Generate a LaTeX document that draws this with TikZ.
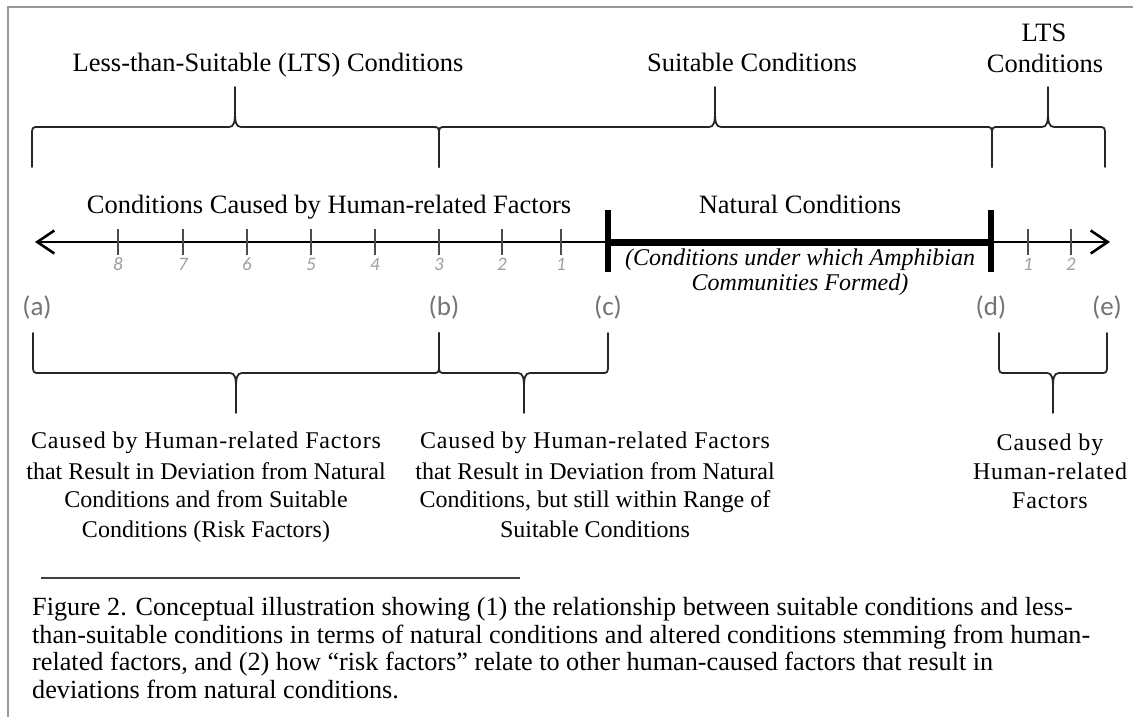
\documentclass[tikz,border=0pt]{standalone}
\usepackage{fontspec}
\setmainfont{Liberation Serif}
\newfontfamily\ptfont{Carlito}
\usetikzlibrary{arrows.meta}

% curly brace: x-left, x-tip, x-right, y of ends, y of bar, direction (1 = tip up, -1 = tip down), y of tip
\newcommand\cbrace[7]{%
  \draw[brace] (#1,#4) -- (#1,{#5+(#6)*9}) .. controls (#1,#5) .. ({#1+7},#5)
    -- ({#2-6},#5) .. controls ({#2-1},#5) and (#2,{#5-(#6)*5}) .. (#2,{#5-(#6)*15})
    -- (#2,#7)
    (#2,{#5-(#6)*15}) .. controls (#2,{#5-(#6)*5}) and ({#2+1},#5) .. ({#2+6},#5)
    -- ({#3-7},#5) .. controls (#3,#5) .. (#3,{#5+(#6)*9}) -- (#3,#4);}

\begin{document}
\begin{tikzpicture}[x=1pt,y=-1pt,
  lbl/.style={font=\fontsize{26.5}{28}\selectfont, inner sep=0pt, anchor=base},
  expl/.style={font=\fontsize{24}{28}\selectfont, inner sep=0pt, anchor=base},
  explwide/.style={font=\fontsize{24}{28}\selectfont\addfontfeature{LetterSpace=3.5}, inner sep=0pt, anchor=base},
  itl/.style={font=\fontsize{24}{25}\selectfont\itshape, inner sep=0pt, anchor=base},
  captxt/.style={font=\fontsize{26.2}{27}\selectfont, inner sep=0pt, anchor=base west},
  ptlbl/.style={font=\ptfont\fontsize{27}{27}\selectfont, text=black!55, inner sep=0pt},
  ticklbl/.style={font=\ptfont\itshape\fontsize{19}{19}\selectfont, text=black!38, inner sep=0pt},
  brace/.style={draw=black!85, line width=1.8pt, line join=round, line cap=round},
  axis/.style={draw=black, line width=2.4pt,
    {Straight Barb[length=17pt,width=23pt,line width=2.6pt]}-{Straight Barb[length=17pt,width=23pt,line width=2.6pt]}},
  natural/.style={draw=black, line width=7pt},
  smalltick/.style={draw=black!70, line width=1.3pt},
  bigtick/.style={draw=black, line width=6pt},
  frameline/.style={draw=black!40, line width=2.5pt},
]
\useasboundingbox (0,0) rectangle (1133,717);

% page frame
\draw[frameline] (8,717) -- (8,7) -- (1133,7);

% headings above the scale
\node[lbl] (ltsA) at (268,72) {Less-than-Suitable (LTS) Conditions};
\node[lbl] (suit) at (752,72) {Suitable Conditions};
\node[lbl] (ltsB1) at (1044,42) {LTS};
\node[lbl] (ltsB2) at (1045,73) {Conditions};

% braces grouping the scale from above
\cbrace{32}{235}{439}{167}{127}{1}{87}
\cbrace{439}{715}{992}{167}{127}{1}{87}
\cbrace{992}{1048}{1105}{167}{127}{1}{87}

% labels on the scale
\node[lbl] (human) at (329,213) {Conditions Caused by Human-related Factors};
\node[lbl] (nat) at (800,213) {Natural Conditions};
\node[itl] (form1) at (800,265) {(Conditions under which Amphibian};
\node[itl] (form2) at (800,290) {Communities Formed)};

% the scale
\coordinate (axL) at (35,242);
\coordinate (axR) at (1110,242);
\coordinate (natL) at (608,242);
\coordinate (natR) at (991,242);
\draw[axis] (axL) -- (axR);
\draw[natural] (natL) -- (natR);
\draw[bigtick] (608,210) -- (608,272);
\draw[bigtick] (991,210) -- (991,272);

\foreach \x/\n in {118/8,183/7,247/6,311/5,375/4,439/3,502/2,561/1,1028/1,1071/2}{
  \draw[smalltick] (\x,229) -- (\x,255);
  \node[ticklbl] (t\x) at (\x,264) {\n};
}

% reference points
\node[ptlbl] (pa) at (37,307) {(a)};
\node[ptlbl] (pb) at (444,307) {(b)};
\node[ptlbl] (pc) at (608,307) {(c)};
\node[ptlbl] (pd) at (991,307) {(d)};
\node[ptlbl] (pe) at (1107,307) {(e)};

% braces grouping the scale from below
\cbrace{33}{236}{439}{333}{373}{-1}{413}
\cbrace{439}{524}{608}{333}{373}{-1}{413}
\cbrace{999}{1053}{1107}{333}{373}{-1}{413}

% explanations below the braces
\node[explwide] (a1) at (206,448) {Caused by Human-related Factors};
\node[expl] (a2) at (206,479) {that Result in Deviation from Natural};
\node[expl] (a3) at (206,507) {Conditions and from Suitable};
\node[expl] (a4) at (206,537) {Conditions (Risk Factors)};

\node[explwide] (b1) at (595,448) {Caused by Human-related Factors};
\node[expl] (b2) at (595,479) {that Result in Deviation from Natural};
\node[expl] (b3) at (595,507) {Conditions, but still within Range of};
\node[expl] (b4) at (595,537) {Suitable Conditions};

\node[explwide] (c1) at (1050,450) {Caused by};
\node[explwide] (c2) at (1050,479) {Human-related};
\node[explwide] (c3) at (1050,508) {Factors};

% caption
\draw[draw=black!75, line width=1.5pt] (41,578) -- (520,578);
\node[captxt] (cap1) at (32,615) {Figure 2. Conceptual illustration showing (1) the relationship between suitable conditions and less-};
\node[captxt] (cap2) at (32,643) {than-suitable conditions in terms of natural conditions and altered conditions stemming from human-};
\node[captxt] (cap3) at (32,670) {related factors, and (2) how “risk factors” relate to other human-caused factors that result in};
\node[captxt] (cap4) at (32,698) {deviations from natural conditions.};
\end{tikzpicture}
\end{document}
